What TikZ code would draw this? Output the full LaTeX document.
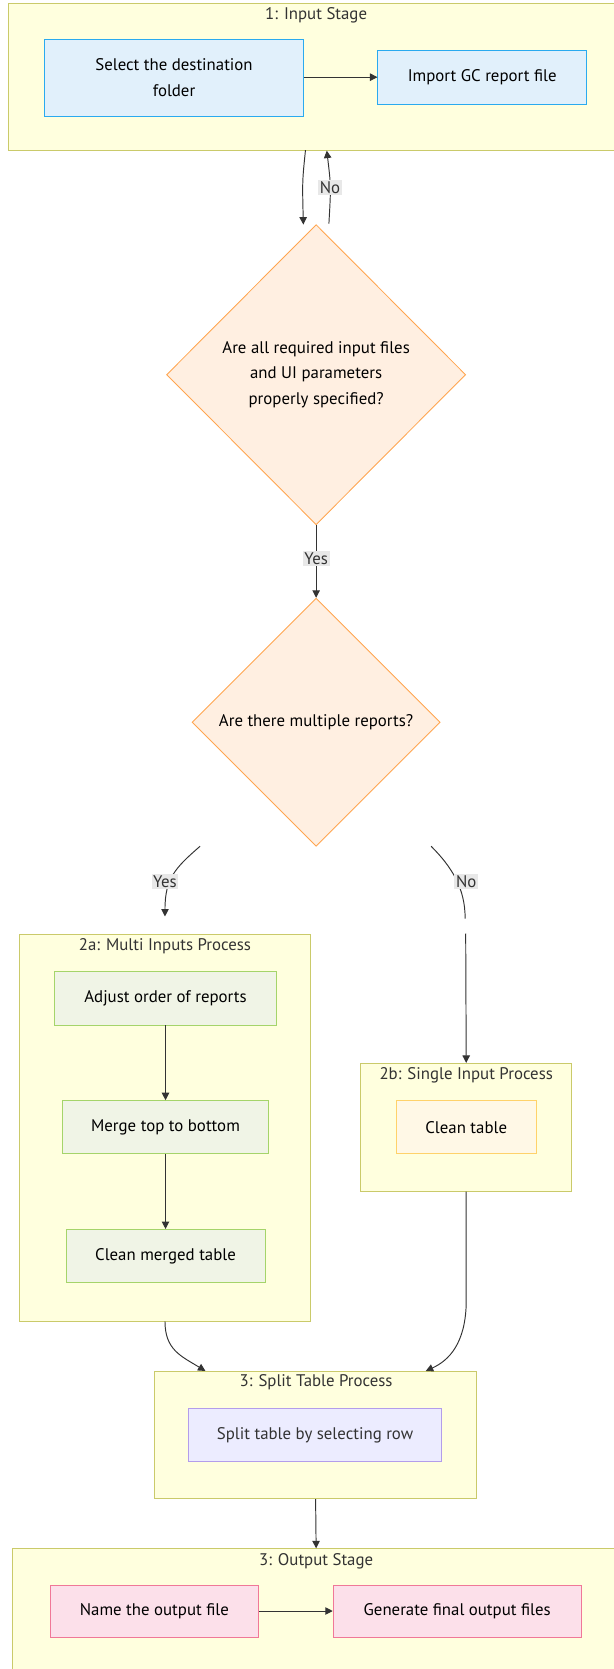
\documentclass[tikz,border=0pt]{standalone}
\usepackage{fontspec}
\setmainfont{PT Sans}
\usetikzlibrary{shapes.geometric,arrows.meta,calc}
\definecolor{clfill}{HTML}{FFFFDE}
\definecolor{cldraw}{HTML}{CACA6A}
\definecolor{bluefill}{HTML}{E1F0FB}
\definecolor{bluedraw}{HTML}{2AAAEF}
\definecolor{orfill}{HTML}{FFEFE1}
\definecolor{ordraw}{HTML}{FFA54F}
\definecolor{grfill}{HTML}{F0F4E6}
\definecolor{grdraw}{HTML}{A5D46A}
\definecolor{yefill}{HTML}{FFF8E6}
\definecolor{yedraw}{HTML}{FFD26A}
\definecolor{pufill}{HTML}{ECECFF}
\definecolor{pudraw}{HTML}{B39DEB}
\definecolor{pifill}{HTML}{FCE0EA}
\definecolor{pidraw}{HTML}{F07898}
\definecolor{edge}{HTML}{333333}
\definecolor{lblbg}{HTML}{E8E8E8}
\newcommand{\fsz}{\fontsize{15.8}{24}\selectfont}
\tikzset{
  cluster/.style={draw=cldraw, fill=clfill, line width=0.8pt, inner sep=0pt},
  ctitle/.style={font=\fsz, text=edge, inner sep=0pt},
  box/.style={draw, line width=0.8pt, align=center, font=\fsz, inner sep=0pt},
  dia/.style={diamond, draw=ordraw, fill=orfill, line width=0.8pt, align=center, font=\fsz, inner sep=0pt},
  arr/.style={draw=edge, line width=0.9pt, -{Triangle[length=7pt,width=7pt]}},
  ln/.style={draw=edge, line width=0.9pt},
  elabel/.style={fill=lblbg, font=\fsz, text=edge, inner sep=1.5pt}
}
\begin{document}
\begin{tikzpicture}[x=1pt,y=-1pt]
\useasboundingbox (0,0) rectangle (576,1568);
% clusters
\node[cluster, minimum width=578pt, minimum height=138pt] (c1) at (297,72) {};
\node[ctitle] (t1) at (297,14) {1: Input Stage};
\node[cluster, minimum width=274pt, minimum height=363pt] (c2a) at (155,1059.5) {};
\node[ctitle] (t2a) at (155,889) {2a: Multi Inputs Process};
\node[cluster, minimum width=198pt, minimum height=120pt] (c2b) at (438,1059) {};
\node[ctitle] (t2b) at (438,1010) {2b: Single Input Process};
\node[cluster, minimum width=303pt, minimum height=120pt] (c3) at (296.5,1348) {};
\node[ctitle] (t3) at (297,1299) {3: Split Table Process};
\node[cluster, minimum width=570pt, minimum height=120pt] (c4) at (297,1515) {};
\node[ctitle] (t4) at (297,1467) {3: Output Stage};
% boxes
\node[box, draw=bluedraw, fill=bluefill, minimum width=243pt, minimum height=72pt] (sel) at (163.5,73) {Select the destination\\folder};
\node[box, draw=bluedraw, fill=bluefill, minimum width=196pt, minimum height=51pt] (imp) at (453,72.5) {Import GC report file};
\node[dia, minimum width=281pt, minimum height=282pt] (d1) at (297,352) {Are all required input files\\and UI parameters\\properly specified?};
\node[dia, minimum width=233pt, minimum height=233pt] (d2) at (297,678.5) {Are there multiple reports?};
\node[box, draw=grdraw, fill=grfill, minimum width=209pt, minimum height=50pt] (adj) at (155.5,938) {Adjust order of reports};
\node[box, draw=grdraw, fill=grfill, minimum width=193pt, minimum height=50pt] (mrg) at (155.5,1059) {Merge top to bottom};
\node[box, draw=grdraw, fill=grfill, minimum width=187pt, minimum height=50pt] (cmt) at (155.5,1180) {Clean merged table};
\node[box, draw=yedraw, fill=yefill, minimum width=132pt, minimum height=50pt] (ctb) at (438,1059) {Clean table};
\node[box, draw=pudraw, fill=pufill, minimum width=238pt, minimum height=50pt, text=edge] (spl) at (296,1348) {Split table by selecting row};
\node[box, draw=pidraw, fill=pifill, minimum width=196pt, minimum height=49pt] (nam) at (145,1513.5) {Name the output file};
\node[box, draw=pidraw, fill=pifill, minimum width=233pt, minimum height=49pt] (gen) at (429.5,1513.5) {Generate final output files};
% coordinates
\coordinate (a1) at (287,141);
\coordinate (a2) at (285,211);
\coordinate (b1) at (309,210);
\coordinate (b2) at (307,141.5);
\coordinate (y1) at (188,795);
\coordinate (y2) at (155,861);
\coordinate (n1) at (405,795);
\coordinate (n2) at (437,863);
\coordinate (n3) at (437.5,877);
\coordinate (s1) at (193,1288);
\coordinate (s2) at (400,1288);
% edges
\draw[arr] (sel.east |- imp.west) -- (imp.west);
\draw[arr] (a1) .. controls (284,170) .. (a2);
\draw[arr] (b1) .. controls (311,175) .. (b2);
\node[elabel] (lno1) at (310,176) {No};
\draw[arr] (d1.south) -- (d2.north);
\node[elabel] (lyes1) at (297,525) {Yes};
\draw[arr] (y1) .. controls (165,815) and (155,825) .. (y2);
\node[elabel] (lyes2) at (155,828) {Yes};
\draw[ln] (n1) .. controls (425,815) and (437,835) .. (n2);
\node[elabel] (lno2) at (438,828) {No};
\draw[arr] (n3) -- (ctb.north |- c2b.north);
\draw[arr] (adj) -- (mrg);
\draw[arr] (mrg) -- (cmt);
\draw[arr] (c2a.south) .. controls (155,1268) and (170,1274) .. (s1);
\draw[arr] (c2b.south) -- (438,1225) .. controls (437,1262) and (422,1278) .. (s2);
\draw[arr] (c3.south) -- (c4.north);
\draw[arr] (nam) -- (gen);
\end{tikzpicture}
\end{document}
